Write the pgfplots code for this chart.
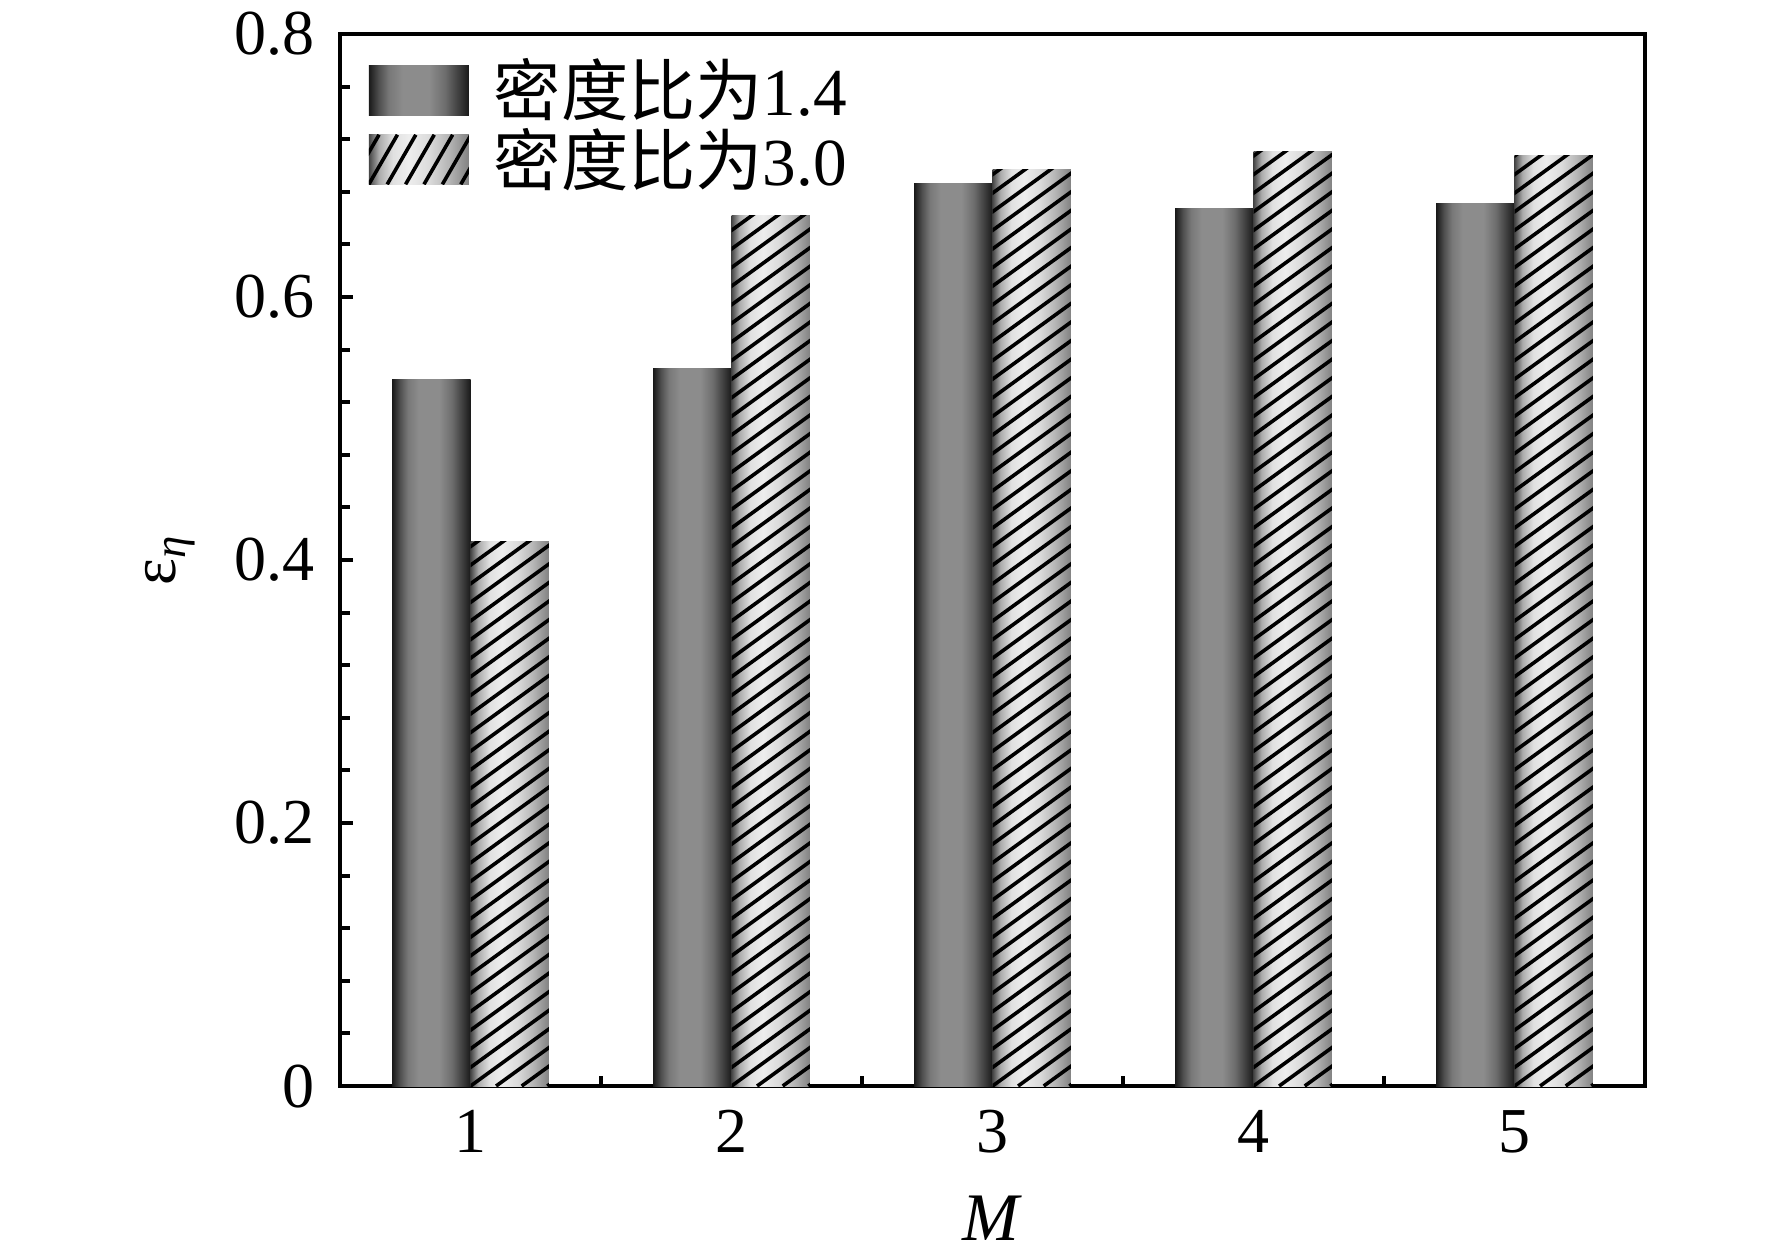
\documentclass[border=0pt]{standalone}
\usepackage{pgfplots}
\usepackage{pgfplotstable}
\pgfplotsset{compat=1.18}
\usepackage{fontspec}
\setmainfont{Liberation Serif}
\newfontfamily\cjk{Noto Sans CJK SC}

\pgfplotstableread{
x d h
1 0.537 0.414
2 0.546 0.662
3 0.686 0.697
4 0.667 0.711
5 0.671 0.708
}\datatable

\pgfdeclarehorizontalshading{darkshade}{100bp}{
  color(0bp)=(black!90); color(25bp)=(black!90); color(30bp)=(black!69);
  color(35bp)=(black!53); color(42bp)=(black!45); color(55bp)=(black!45);
  color(63bp)=(black!57); color(70bp)=(black!76); color(75bp)=(black!90);
  color(100bp)=(black!90)}
\pgfdeclarehorizontalshading{lightshade}{100bp}{
  color(0bp)=(black!73); color(25bp)=(black!73); color(30bp)=(black!33);
  color(37bp)=(black!12); color(45bp)=(black!7); color(55bp)=(black!14);
  color(65bp)=(black!29); color(75bp)=(black!49); color(100bp)=(black!49)}

\newcommand\leghatch{%
  \begin{pgfscope}
    \pgfpathrectanglecorners{\pgfqpoint{0pt}{-6.2pt}}{\pgfqpoint{25pt}{6.2pt}}%
    \pgfusepath{clip}%
    \pgfsetlinewidth{0.9pt}\pgfsetstrokecolor{black}%
    \foreach \k in {-2,...,6}{%
      \pgfmathsetmacro\s{\k*4.6}%
      \pgfpathmoveto{\pgfpoint{\s pt}{-6.2pt}}%
      \pgfpathlineto{\pgfpoint{\s pt+7.16pt}{6.2pt}}%
      \pgfusepath{stroke}}%
  \end{pgfscope}}

\pgfplotsset{
  dbar/.style={ybar, bar width=0.3, bar shift=-0.15, draw=none, shading=darkshade,
    legend image code/.code={\path[shading=darkshade] (0pt,-6.2pt) rectangle (25pt,6.2pt);}},
  hbar/.style={ybar, bar width=0.3, bar shift=0.15, draw=none, shading=lightshade,
    legend image code/.code={\path[shading=lightshade] (0pt,-6.2pt) rectangle (25pt,6.2pt);
      \leghatch}},
}

\begin{document}
\begin{tikzpicture}
\path[use as bounding box] (-85pt,-42.75pt) rectangle (358pt,271.5pt);
\begin{axis}[
  at={(0,0)}, anchor=south west,
  scale only axis, width=326.25pt, height=263pt,
  xmin=0.5, xmax=5.5, ymin=0, ymax=0.8,
  xtick={1,2,3,4,5}, xticklabels={1,2,3,4,5},
  major x tick style={draw=none},
  minor xtick={1.5,2.5,3.5,4.5},
  ytick={0,0.2,0.4,0.6,0.8},
  minor y tick num=4,
  tick pos=left, tick align=inside,
  major tick length=3.3pt, minor tick length=2.5pt,
  every tick/.style={black, line width=1pt},
  axis line style={line width=1.2pt},
  /pgf/number format/assume math mode=true,
  /pgf/number format/fixed, /pgf/number format/precision=1,
  tick label style={font=\fontsize{16}{19}\selectfont},
  xticklabel style={yshift=-2.5pt},
  yticklabel style={xshift=-2.8pt},
  xlabel={\textit{M}},
  ylabel={ε\textsubscript{\textit{η}}},
  every axis x label/.style={at={(axis description cs:0.5,-0.1255)}, anchor=center,
    font=\fontsize{17}{20}\selectfont},
  every axis y label/.style={at={(axis description cs:-0.13,0.5)}, rotate=90, anchor=center,
    font=\fontsize{16}{19}\selectfont},
  legend style={at={(axis description cs:0,1)}, anchor=north west, xshift=4pt, yshift=-2pt,
    draw=none, fill=none, font=\fontsize{16.8}{20}\selectfont,
    cells={anchor=west}, row sep=-2.5pt,
    /tikz/every odd column/.append style={column sep=4.25pt}},
  legend cell align=left,
]
\addplot[dbar] coordinates {(1,0.537)};
\addlegendentry{{\cjk 密度比为}1.4}
\addplot[hbar] coordinates {(1,0.414)};
\addlegendentry{{\cjk 密度比为}3.0}
\addplot[dbar, forget plot] coordinates {(2,0.546)};
\addplot[dbar, forget plot] coordinates {(3,0.686)};
\addplot[dbar, forget plot] coordinates {(4,0.667)};
\addplot[dbar, forget plot] coordinates {(5,0.671)};
\addplot[hbar, forget plot] coordinates {(2,0.662)};
\addplot[hbar, forget plot] coordinates {(3,0.697)};
\addplot[hbar, forget plot] coordinates {(4,0.711)};
\addplot[hbar, forget plot] coordinates {(5,0.708)};
\pgfplotsextra{%
  \foreach \i in {0,...,4}{%
    \pgfplotstablegetelem{\i}{x}\of\datatable \let\xx\pgfplotsretval
    \pgfplotstablegetelem{\i}{h}\of\datatable \let\hh\pgfplotsretval
    \pgfmathsetmacro\xr{\xx+0.3}%
    \begin{pgfscope}
      \pgfpathrectanglecorners{\pgfplotspointaxisxy{\xx}{0}}{\pgfplotspointaxisxy{\xr}{\hh}}%
      \pgfusepath{clip}%
      \pgfsetlinewidth{0.9pt}\pgfsetstrokecolor{black}%
      \foreach \k in {-52,...,3}{%
        \pgfmathsetmacro\s{\k*6.4}%
        \pgfpathmoveto{\pgfpointadd{\pgfplotspointaxisxy{\xx}{0}}{\pgfpoint{\s pt}{0pt}}}%
        \pgfpathlineto{\pgfpointadd{\pgfplotspointaxisxy{\xx}{0}}{\pgfpoint{\s pt+339.8pt}{246.9pt}}}%
        \pgfusepath{stroke}}%
    \end{pgfscope}
  }}
\end{axis}
\end{tikzpicture}
\end{document}
